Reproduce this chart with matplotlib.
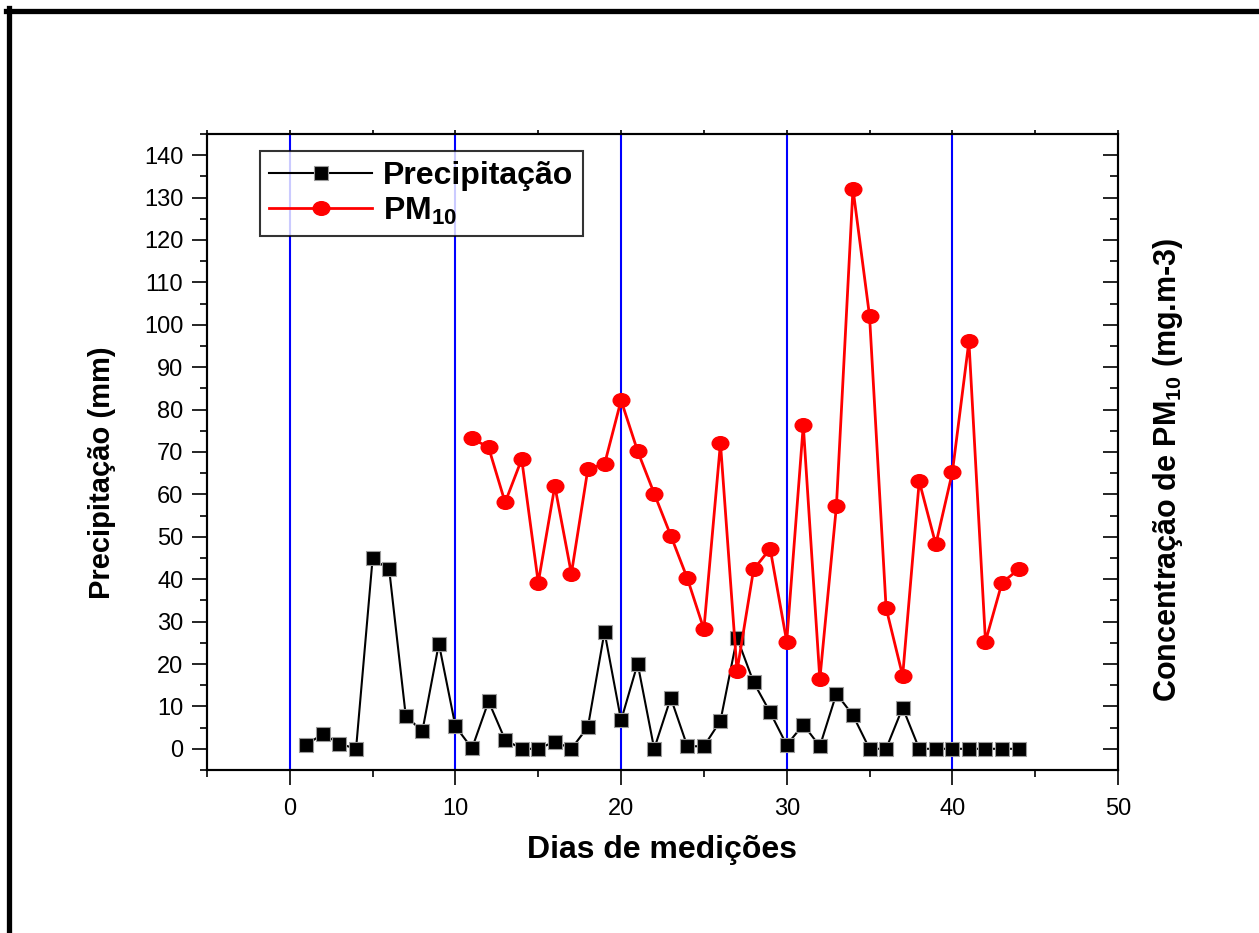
import matplotlib
matplotlib.use('Agg')

import matplotlib.pyplot as plt
from matplotlib.lines import Line2D
from matplotlib.path import Path
from matplotlib.transforms import Affine2D

plt.rcParams['font.family'] = ['Liberation Sans', 'DejaVu Sans']
plt.rcParams['mathtext.fontset'] = 'custom'
plt.rcParams['mathtext.rm'] = 'Liberation Sans'
plt.rcParams['mathtext.bf'] = 'Liberation Sans:bold'

# =========================
# DATA
# =========================

# daily rainfall, days 1..44
dias_precip = list(range(1, 45))
precipitacao = [1.0, 3.5, 1.2, 0.0, 44.9, 42.3, 7.8, 4.1, 24.8, 5.3,
                0.1, 11.2, 2.1, 0.0, 0.0, 1.7, 0.0, 5.2, 27.6, 6.7,
                20.1, 0.0, 12.0, 0.6, 0.6, 6.6, 26.2, 15.7, 8.6, 0.9,
                5.7, 0.6, 13.0, 7.9, 0.0, 0.0, 9.7, 0.0, 0.0, 0.0,
                0.0, 0.0, 0.0, 0.0]

# PM10 concentration, sampled from day 11 on
dias_pm10 = list(range(11, 45))
pm10 = [73.2, 71.1, 58.1, 68.3, 39.2, 62.0, 41.3, 66.1, 67.1, 82.2,
        70.2, 60.2, 50.3, 40.2, 28.2, 72.1, 18.3, 42.3, 47.2, 25.3,
        76.3, 16.4, 57.2, 132.1, 102.1, 33.2, 17.2, 63.1, 48.2, 65.2,
        96.1, 25.3, 39.2, 42.3]

linhas_verticais = [0, 10, 20, 30, 40]
x_ticks = [0, 10, 20, 30, 40, 50]
y_ticks = list(range(0, 141, 10))

# =========================
# FIGURE
# =========================

fig = plt.figure(figsize=(12.59, 9.33), dpi=100)
ax = fig.add_axes([0.1644, 0.1747, 0.7236, 0.6817])

# thick frame on the top and left edges
fig.add_artist(Line2D([0.0048, 1.0], [0.9887, 0.9887], color='black',
                      linewidth=3.8, transform=fig.transFigure))
fig.add_artist(Line2D([0.0068, 0.0068], [0.0, 0.9915], color='black',
                      linewidth=3.8, transform=fig.transFigure))

for xv in linhas_verticais:
    ax.axvline(xv, color='#0000ff', linewidth=1.5, zorder=1)

# slightly flattened circle for the PM10 markers
ellipse = Path.unit_circle().transformed(Affine2D().scale(1.0, 0.82))

ax.plot(dias_precip, precipitacao, color='black', linewidth=1.5,
        marker='s', markersize=10, markerfacecolor='black',
        markeredgecolor='#9a9a9a', markeredgewidth=0.8,
        label='Precipitação', zorder=3)
ax.plot(dias_pm10, pm10, color='#ff0000', linewidth=2.0,
        marker=ellipse, markersize=12, markerfacecolor='#ff0000',
        markeredgecolor='#ff0000', label=r'$\mathbf{PM_{10}}$', zorder=4)

ax.set_xlim(-5, 50)
ax.set_ylim(-5, 145)
ax.set_xticks(x_ticks)
ax.set_xticks([-5, 5, 15, 25, 35, 45], minor=True)
ax.set_yticks(y_ticks)
ax.set_yticks([-5] + [v + 5 for v in y_ticks[:-1]] + [145], minor=True)

for spine in ax.spines.values():
    spine.set_linewidth(1.5)

ax.tick_params(axis='both', which='major', direction='out', length=11,
               width=1.2, labelsize=17, pad=6)
ax.tick_params(axis='both', which='minor', direction='out', length=5,
               width=1.2)
ax.tick_params(axis='x', which='major', pad=9)
# tiny ticks along the top edge
ax.tick_params(axis='x', which='both', top=True)
for t in ax.xaxis.get_major_ticks() + ax.xaxis.get_minor_ticks():
    t.tick2line.set_markersize(3)

# right axis: inward ticks, no labels
ax2 = ax.twinx()
ax2.set_ylim(ax.get_ylim())
ax2.set_yticks(y_ticks)
ax2.set_yticks([-5] + [v + 5 for v in y_ticks[:-1]] + [145], minor=True)
ax2.tick_params(axis='y', which='major', direction='in', length=11,
                width=1.2, labelright=False)
ax2.tick_params(axis='y', which='minor', direction='in', length=6,
                width=1.2)
for spine in ax2.spines.values():
    spine.set_linewidth(1.5)

ax.set_xlabel('Dias de medições', fontsize=23, fontweight='bold')
ax.xaxis.set_label_coords(0.5, -0.125)
ax.xaxis.label.set_va('center')

ax.set_ylabel('Precipitação (mm)', fontsize=21, fontweight='bold')
ax.yaxis.set_label_coords(-0.115, 0.467)
ax.yaxis.label.set_va('center')

ax2.set_ylabel(r'Concentração de $\mathbf{PM_{10}}$ (mg.m-3)',
               fontsize=22, fontweight='bold')
ax2.yaxis.set_label_coords(1.055, 0.472)
ax2.yaxis.label.set_va('center')
ax2.yaxis.label.set_rotation(90)

leg = ax.legend(loc='upper left', bbox_to_anchor=(0.058, 0.973),
                prop={'size': 23, 'weight': 'bold'}, frameon=True,
                fancybox=False, edgecolor='black', handlelength=3.2,
                handletextpad=0.35, borderpad=0.3, labelspacing=0.15,
                borderaxespad=0.0)
leg.get_frame().set_linewidth(1.5)
leg.set_zorder(5)

fig.savefig('out.png', dpi=100, facecolor='white')
